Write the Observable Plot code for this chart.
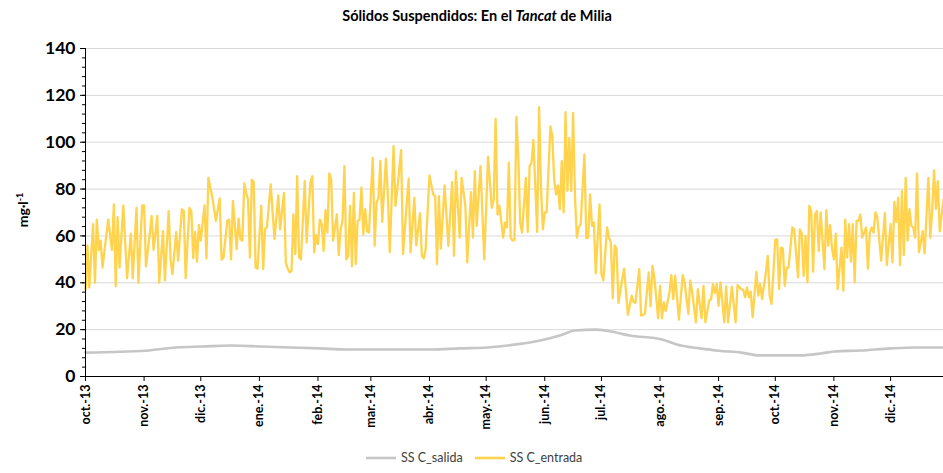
<!DOCTYPE html>
<html><head><meta charset="utf-8">
<script src="https://cdn.jsdelivr.net/npm/d3@7"></script>
<script src="https://cdn.jsdelivr.net/npm/@observablehq/plot@0.6"></script>
<style>
body{margin:0;background:#fff;font-family:Lato,"Open Sans",sans-serif;}
#wrap{position:relative;width:943px;height:473px;overflow:hidden;background:#fff}
#title{position:absolute;top:7px;left:477px;transform:translateX(-50%);text-align:center;font-weight:bold;font-size:14.5px;color:#000;line-height:18px;white-space:nowrap}
#chart{position:absolute;top:30px;left:0}
#ylab{position:absolute;left:22px;top:210px;transform:translate(-50%,-50%) rotate(-90deg);font-weight:bold;font-size:14px;white-space:nowrap;color:#000}
#ylab sup{font-size:9px;vertical-align:5px;line-height:0}
#legend{position:absolute;top:450px;left:366px;display:flex;align-items:center;font-size:12.5px;color:#404040;white-space:nowrap}
#legend .item{display:flex;align-items:center;margin-right:12px}
#legend svg{margin-right:5px}
</style></head>
<body><div id="wrap">
<div id="title">Sólidos Suspendidos: En el <i>Tancat</i> de Milia</div>
<div id="chart"></div>
<div id="ylab">mg·l<sup>-1</sup></div>
<div id="legend"></div>
</div>
<script>
// Series names and colours
const seriesNames = ["SS C_salida", "SS C_entrada"];
const seriesColors = ["#c6c6c6", "#ffd34e"];
// Axis
const startDate = "2013-10-01";
const endDay = 454;
const monthLabels = ["oct.-13","nov.-13","dic.-13","ene.-14","feb.-14","mar.-14","abr.-14","may.-14","jun.-14","jul.-14","ago.-14","sep.-14","oct.-14","nov.-14","dic.-14"];
const yTicks = [0,20,40,60,80,100,120,140];

// SS C_entrada (days after 2013-10-01, mg/l)
const entradaDia = [0,1,2,4,5,6,7,8,9,12,14,15,16,17,18,20,22,24,25,27,28,30,31,32,34,35,36,38,39,41,42,44,45,46,48,49,51,52,53,55,56,57,58,59,60,61,63,64,65,67,69,71,72,73,75,76,77,78,80,81,82,83,84,85,86,87,88,89,90,91,93,94,95,96,98,100,102,103,105,106,107,108,109,110,111,112,113,114,116,117,119,120,121,122,123,124,125,126,127,128,129,130,131,133,134,135,136,137,138,139,140,141,142,143,144,145,146,147,148,149,150,152,153,154,155,156,157,159,160,161,163,164,165,167,168,170,171,172,174,175,177,178,179,180,182,184,185,186,187,188,190,192,194,195,196,198,199,201,202,204,205,206,207,209,211,213,215,216,217,218,219,221,222,223,224,225,226,227,228,229,230,231,233,234,235,236,237,239,240,241,242,243,244,246,247,248,249,250,251,252,253,254,255,256,257,258,259,260,261,262,264,265,266,267,268,269,270,272,273,274,276,277,278,279,280,281,282,284,285,287,289,290,291,293,294,296,298,299,300,301,303,304,305,306,307,309,310,311,312,314,316,317,319,320,321,323,324,326,327,328,330,331,332,333,334,335,336,338,339,340,342,344,345,347,348,349,350,351,352,353,355,356,357,358,360,361,362,363,365,366,367,368,369,370,371,372,374,375,377,378,379,380,381,382,383,384,385,386,387,388,389,391,392,393,394,395,396,397,398,400,401,402,403,404,405,406,407,408,409,410,411,413,414,415,416,417,418,419,421,423,424,426,427,428,429,430,431,432,433,434,435,436,437,438,439,440,441,442,443,444,446,447,448,449,450,451,452,454];
const entradaValor = [37,56,38,65,40,67,54,58,46.5,67,54,73.5,38.5,68,46.5,73,42,61,42,72,40,73,73,47,61,68.5,54,68.5,40,62,41,70.6,50,43.7,61.7,49.4,71.4,70.6,42,72,70.6,50.5,61.7,49,64.7,58,73,50.4,84.8,77,66.4,76,49.8,50.8,66.4,67,50,75,54.3,67.4,58.6,58,82.4,78.4,75.6,50.8,84,83,46.5,46,72.8,45.8,63,63.6,82,58.6,77.3,62.8,78.4,48.7,46,44.5,45,69.2,52.2,85.5,50.8,50,83.4,57.2,82.7,85.5,53,60.3,56.5,67,65,53.6,71,61.4,86.7,84,58,69.2,51.8,62.8,66.4,89.8,50,51.5,72.8,47,78.4,48,66.4,67,80.6,60.7,71.4,62,61.4,93.3,55.8,74.2,76.3,92,66,93,77,53,98.3,72.8,80,96.6,52.2,74.2,84.4,53,76.3,56,69.7,51.5,50.4,54.3,85.8,77.7,77,48,77,54.6,81.6,55.8,83,51.5,87.7,59.3,84.8,72.8,48.7,78.7,59.3,87.7,64.3,89.8,50,93.8,72,75.6,110,69.2,72.8,59.3,65.7,63.6,91.2,59.3,58,58.3,110.8,94,65.7,61.4,84.8,61.7,89.8,91.2,101,61.7,115,81.3,62.8,70,70,106.8,102.6,84,77.7,81.6,71.4,92,70,112.8,79.2,101.8,79.2,112.5,77,59.3,63.6,65,94.8,59,59.3,77.7,64.3,65.7,44,73.5,43.7,41,63.6,59.3,57.2,33.4,56,54.3,31.4,41.6,46,26.3,34.5,31.7,31.4,45.8,26,26.7,44.4,30,47.2,42.3,24.8,38.7,24.8,31.7,28,36,43.3,33,43,24.3,43.3,40.2,26.7,41,36,23.1,37.3,24.8,38.7,23.1,32.4,32.8,39.4,35.6,39.4,30.2,40.2,23.1,38.5,23.1,38.3,23.1,39,37.3,37,33.8,38,33.8,36.2,25.3,44.7,34.5,39.4,33,44.4,51.5,34.5,31,58.3,58.6,37.3,55,54.6,38.7,46.5,46.5,63.6,62.8,42.3,62.8,61,43,60,40.2,72.8,70.6,44.7,69.2,70.6,53.6,70,45.8,71,55.8,64.6,54.6,50,61,37.3,55,36.6,67,50.8,65,49,65,40.2,66.4,66.4,69.2,59.3,63.6,46,61.4,63.6,61.4,70,67.8,49.4,69.7,47.5,65,48.7,74.5,66,76.3,47.5,79.2,51.8,84.8,58,71.4,64.3,63.6,59.3,86.7,53,57.2,62,52.6,84.8,59.3,70.6,88,71.6,83.4,62,75.6];

// SS C_salida (days after 2013-10-01, mg/l)
const salidaDia = [0,32,48,62,77,93,108,124,138,183,198,213,228,243,251,259,270,278,288,305,315,325,335,347,357,378,389,396,410,426,439,454];
const salidaValor = [10.2,11,12.4,12.8,13.2,12.8,12.4,12,11.5,11.5,12,12.4,13.7,15.8,17.5,19.6,20,19.2,17.5,15.8,13.2,12,11,10.2,9,9,9.8,10.7,11.1,12,12.4,12.4];

const t0 = new Date(startDate + "T00:00:00Z");
const toDate = d => d3.utcDay.offset(t0, d);
const entrada = entradaDia.map((d, i) => ({date: toDate(d), v: entradaValor[i]}));
const salida = salidaDia.map((d, i) => ({date: toDate(d), v: salidaValor[i]}));
const monthTicks = monthLabels.map((_, i) => d3.utcMonth.offset(t0, i));
const minorTicks = d3.range(0, 141, 4);

const chart = Plot.plot({
  width: 943,
  height: 415,
  marginTop: 18,
  marginLeft: 85,
  marginRight: 0,
  marginBottom: 69,
  style: {fontFamily: "Lato, 'Open Sans', sans-serif", color: "#000", background: "#fff"},
  x: {type: "utc", domain: [t0, toDate(endDay)]},
  y: {domain: [0, 140]},
  marks: [
    Plot.gridY(yTicks.filter(d => d > 0), {stroke: "#d9d9d9", strokeOpacity: 1, strokeWidth: 1}),
    Plot.axisY(minorTicks, {tickSize: 3, tickFormat: () => "", label: null, stroke: "#000"}),
    Plot.axisY(yTicks, {tickSize: 5, tickPadding: 5, fontSize: 17.5, fontWeight: "bold", label: null, tickFormat: d => d, stroke: "#000"}),
    Plot.lineY(salida, {x: "date", y: "v", stroke: seriesColors[0], strokeWidth: 2.6, curve: "monotone-x"}),
    Plot.lineY(entrada, {x: "date", y: "v", stroke: seriesColors[1], strokeWidth: 2.3, strokeLinejoin: "round"}),
    Plot.ruleY([0], {stroke: "#000", strokeWidth: 1}),
    Plot.ruleX([t0], {stroke: "#000", strokeWidth: 1}),
    Plot.axisX(monthTicks, {tickSize: 5, tickPadding: 3, tickRotate: -90, fontSize: 12.5, fontWeight: "bold", label: null, tickFormat: (d, i) => monthLabels[i], stroke: "#000"})
  ]
});
document.getElementById("chart").appendChild(chart);

// Legend
const leg = document.getElementById("legend");
seriesNames.forEach((n, i) => {
  const it = document.createElement("div");
  it.className = "item";
  it.innerHTML = `<svg width="30" height="10"><line x1="0" x2="30" y1="5" y2="5" stroke="${seriesColors[i]}" stroke-width="2.6"/></svg><span>${n}</span>`;
  leg.appendChild(it);
});
</script>
</body></html>
